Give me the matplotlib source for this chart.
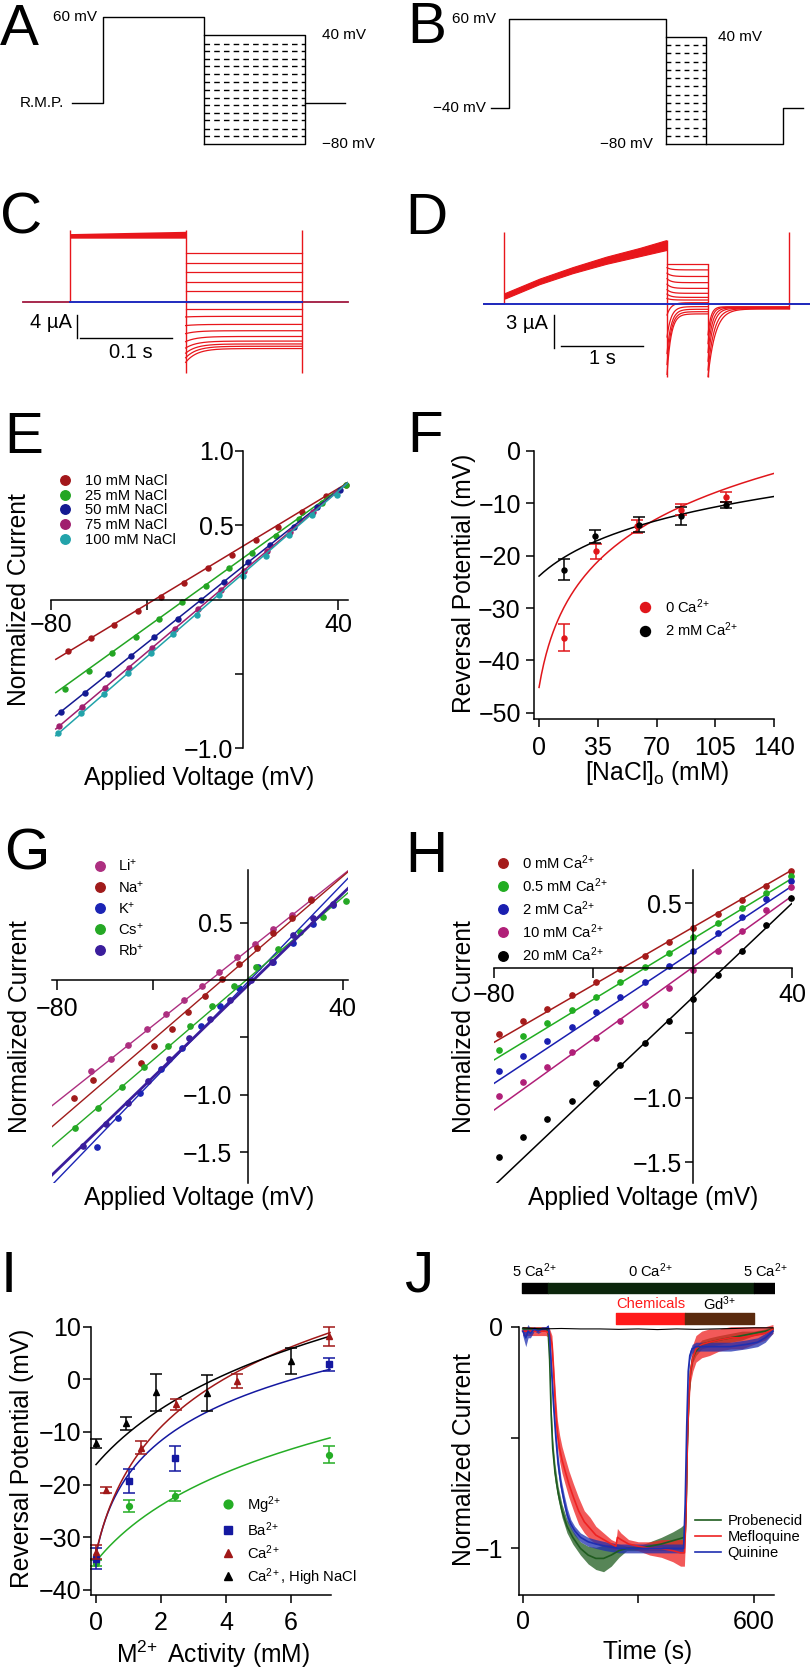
import numpy as np
import matplotlib
matplotlib.use("Agg")
import matplotlib.pyplot as plt

plt.rcParams["font.family"] = ["Liberation Sans", "DejaVu Sans"]
plt.rcParams["mathtext.fontset"] = "custom"
plt.rcParams["mathtext.rm"] = "Liberation Sans"
plt.rcParams["mathtext.it"] = "Liberation Sans:italic"
plt.rcParams["mathtext.bf"] = "Liberation Sans:bold"
plt.rcParams["mathtext.sf"] = "Liberation Sans"
plt.rcParams["mathtext.default"] = "regular"

W, H = 812, 1670
TICK_FS = 18
LABEL_FS = 17.7
LEG_FS = 10.6
LETTER_FS = 42
MINUS = "\u2212"
SUP2 = "$^{2\\!+}$"
SUP3 = "$^{3\\!+}$"

# ---------------- A / B : voltage protocols (arbitrary time units, mV) ----------------
A_times = [0, 31, 132, 233, 273]
A_rmp = -35
A_pulse = 60
A_top = 40
A_bottom = -80
A_dashed = [31, 23, 14, 6, -3, -11, -20, -29, -37, -46, -54, -63, -71]

B_times = [0, 18, 175, 215, 292, 312]
B_hold = -40
B_pulse = 60
B_top = 40
B_bottom = -80
B_dashed = [31, 22, 12, 3, -6, -15, -25, -34, -43, -52, -62, -71]

# ---------------- C : currents for protocol A (s, uA) ----------------
C_times = [0.0, 0.0511, 0.1768, 0.3036, 0.3536]
C_pulse_upper = [11.9, 12.3]
C_pulse_lower = [11.1, 11.1]
C_spike_top = 12.5
C_spike_bottom = -12.35
C_family_start = [8.6, 6.8, 5.2, 3.5, 1.9, 0.0, -1.2, -2.6, -4.1, -5.5, -6.9, -8.0, -8.9, -9.7, -10.5]
C_family_end = [8.6, 6.8, 5.2, 3.5, 1.9, 0.0, -1.2, -2.5, -3.9, -5.0, -6.0, -6.8, -7.3, -7.7, -8.1]
C_tau = 0.012

# ---------------- D : currents for protocol B (s, uA) ----------------
D_times = [0.0, 0.244, 2.232, 2.732, 3.72, 3.96]
D_growth_t = [0.256, 0.675, 1.08, 1.49, 1.90, 2.22]
D_growth_upper = [1.0, 2.3, 3.35, 4.3, 5.1, 5.8]
D_growth_lower = [0.5, 1.8, 2.8, 3.65, 4.35, 4.9]
D_spike_top = 6.55
D_spike_bottom = -6.64
D_family_start = [3.6, 3.3, 2.8, 2.3, 1.8, 1.3, 0.9, 0.5, -1.0, -3.0, -4.5, -5.5, -6.4]
D_family_end = [3.6, 3.1, 2.5, 1.94, 1.42, 0.97, 0.6, 0.36, 0.12, -0.24, -0.48, -0.7, -0.9]
D_family_tau = 0.05
D_tail_start = [-6.6, -6.0, -5.2, -4.4, -3.6, -2.8]
D_tail_end = [-0.45, -0.42, -0.38, -0.34, -0.3, -0.25]
D_tail_tau = [0.09, 0.075, 0.06, 0.05, 0.04, 0.035]

# ---------------- E : I-V at different NaCl ----------------
E_labels = ["10 mM NaCl", "25 mM NaCl", "50 mM NaCl", "75 mM NaCl", "100 mM NaCl"]
E_colors = ["#a3171b", "#23a523", "#141a92", "#a01f6e", "#22a3aa"]
E_V = [
    [-73, -63.5, -53.6, -43.8, -34, -24.3, -14.5, -4.6, 5.4, 14.9, 25, 34.7, 43],
    [-74.3, -64.3, -54.4, -44.6, -34.9, -25.1, -15.4, -5.7, 4, 13.8, 23.5, 33.3, 43],
    [-76, -66, -56.4, -46.6, -36.9, -27.1, -17.4, -7.6, 2.2, 11.6, 21.4, 31.1, 40.8],
    [-76.7, -66.9, -57.3, -47.5, -37.8, -28.4, -18.6, -8.9, 0.7, 10.2, 19.6, 29.4, 39.1],
    [-77.1, -67.4, -57.7, -47.9, -38.4, -28.9, -19.1, -9.7, 0.2, 9.8, 19.5, 29.1, 39.5],
]
E_I = [
    [-0.35, -0.26, -0.17, -0.08, 0.02, 0.11, 0.21, 0.30, 0.40, 0.49, 0.59, 0.70, 0.77],
    [-0.60, -0.48, -0.36, -0.25, -0.13, -0.02, 0.09, 0.21, 0.31, 0.43, 0.54, 0.65, 0.77],
    [-0.76, -0.63, -0.50, -0.38, -0.25, -0.13, 0.00, 0.12, 0.25, 0.37, 0.49, 0.62, 0.74],
    [-0.855, -0.723, -0.593, -0.459, -0.324, -0.197, -0.067, 0.063, 0.195, 0.324, 0.452, 0.586, 0.716],
    [-0.902, -0.765, -0.633, -0.497, -0.362, -0.235, -0.103, 0.027, 0.161, 0.295, 0.431, 0.570, 0.705],
]
E_fit_V = [-78, 44]
E_fit_I = [[-0.403, 0.787], [-0.627, 0.787], [-0.783, 0.787], [-0.872, 0.787], [-0.917, 0.787]]

# ---------------- F : reversal potential vs NaCl ----------------
F_red_x = [15.1, 33.9, 58.1, 84.5, 111.3]
F_red_y = [-35.7, -19.2, -14.4, -11.2, -8.8]
F_red_err = [2.6, 1.5, 1.2, 1.0, 0.9]
F_blk_x = [14.7, 33.4, 59.3, 84.5, 111.3]
F_blk_y = [-22.7, -16.3, -14.1, -12.4, -10.3]
F_blk_err = [2.0, 1.3, 1.4, 1.7, 0.6]
F_red_fit = (-71.3, 13.43, 7.0)   # E = a + b*ln(x + c)
F_blk_fit = (-52.96, 8.63, 29.0)

# ---------------- G : I-V for monovalent cations ----------------
G_labels = ["Li$^{+}$", "Na$^{+}$", "K$^{+}$", "Cs$^{+}$", "Rb$^{+}$"]
G_colors = ["#ad2f80", "#a01b1b", "#1b24b5", "#25a825", "#3a1d9c"]
G_V = [
    [-66, -57.4, -50.2, -42.4, -34.4, -26.7, -19.2, -11.9, -4.6, 3.2, 10.6, 18.5, 26.5],
    [-73, -64.9, -45, -39.2, -31.9, -24.9, -17.9, -10.9, -3.5, 3.8, 10.8, 18.5, 26.5],
    [-63.5, -54.4, -45.2, -36.3, -27.7, -19.7, -11.6, -3.5, 4.5, 10.8, 19.2, 27.6, 35.8],
    [-72.6, -62.8, -52.9, -43.4, -33.6, -24.2, -14.8, -5.6, 3.5, 12.7, 22, 31.6, 41.3],
    [-69.1, -59.5, -50.4, -41.8, -32.9, -24.5, -15.8, -7.4, 1.3, 10.1, 19.2, 27.6, 36],
]
G_I = [
    [-0.793, -0.686, -0.567, -0.427, -0.299, -0.174, -0.049, 0.073, 0.198, 0.317, 0.442, 0.567, 0.704],
    [-1.031, -0.875, -0.724, -0.573, -0.425, -0.276, -0.137, 0.006, 0.139, 0.279, 0.407, 0.543, 0.697],
    [-1.453, -1.200, -0.982, -0.776, -0.590, -0.401, -0.227, -0.073, 0.116, 0.160, 0.320, 0.488, 0.651],
    [-1.293, -1.119, -0.936, -0.762, -0.575, -0.398, -0.224, -0.049, 0.116, 0.267, 0.415, 0.552, 0.692],
    [-1.447, -1.255, -1.069, -0.880, -0.691, -0.508, -0.343, -0.174, 0.000, 0.160, 0.392, 0.538, 0.662],
]
G_fit_V = [-82.3, 42.2]
G_fit_I = [[-1.096, 0.953], [-1.279, 0.944], [-1.787, 0.888], [-1.453, 0.761], [-1.700, 0.799]]
G_fit_lw = [1.0, 1.0, 1.0, 1.0, 2.0]

# ---------------- H : I-V at different Ca ----------------
H_labels = ["0 mM Ca" + SUP2, "0.5 mM Ca" + SUP2, "2 mM Ca" + SUP2, "10 mM Ca" + SUP2, "20 mM Ca" + SUP2]
H_colors = ["#a51b1b", "#22ad22", "#1a1fb0", "#b01f78", "#000000"]
H_V = [-78, -68.5, -58.5, -48.7, -38.9, -29.1, -19.3, -9.7, 0.3, 10.2, 19.9, 29.5, 39.6]
H_I = [
    [-0.510, -0.409, -0.314, -0.211, -0.110, -0.008, 0.095, 0.203, 0.306, 0.415, 0.525, 0.636, 0.749],
    [-0.633, -0.525, -0.427, -0.324, -0.221, -0.110, 0.010, 0.118, 0.237, 0.345, 0.461, 0.582, 0.710],
    [-0.793, -0.680, -0.564, -0.453, -0.342, -0.226, -0.108, 0.015, 0.134, 0.268, 0.396, 0.530, 0.674],
    [-0.988, -0.878, -0.762, -0.651, -0.538, -0.409, -0.286, -0.152, -0.015, 0.134, 0.288, 0.448, 0.623],
    [-1.457, -1.303, -1.166, -1.025, -0.891, -0.749, -0.582, -0.409, -0.239, -0.054, 0.134, 0.332, 0.538],
]
H_fit_V = [-80, 40]
H_fit_I = [[-0.574, 0.757], [-0.710, 0.692], [-0.891, 0.633], [-1.097, 0.556], [-1.681, 0.500]]

# ---------------- I : reversal potential vs divalent activity ----------------
I_labels = ["Mg" + SUP2, "Ba" + SUP2, "Ca" + SUP2, "Ca" + SUP2 + ", High NaCl"]
I_colors = ["#25ad25", "#1418a0", "#a01818", "#000000"]
I_markers = ["o", "s", "^", "^"]
I_x = [
    [0, 1.02, 2.42, 7.18],
    [0, 1.02, 2.42, 7.16],
    [0, 0.31, 1.38, 2.47, 4.33, 7.18],
    [0, 0.92, 1.86, 3.40, 5.99],
]
I_y = [
    [-34.9, -24.1, -22.2, -14.3],
    [-34.1, -19.4, -15.0, 2.85],
    [-32.8, -21.0, -13.0, -4.75, -0.32, 8.2],
    [-12.2, -8.4, -2.5, -2.6, 3.5],
]
I_err = [
    [0.6, 1.2, 0.9, 1.7],
    [2.0, 2.3, 2.4, 1.2],
    [1.3, 0.6, 1.2, 1.0, 1.3, 1.8],
    [0.8, 1.2, 3.5, 3.5, 2.5],
]
I_fits = [(-45.3, 15.4, 2.0), (-21.77, 11.7, 0.37), (-24.66, 16.33, 0.6), (-32.7, 18.0, 2.5)]
I_fit_max = 7.2

# ---------------- J : time course ----------------
J_labels = ["Probenecid", "Mefloquine", "Quinine"]
J_colors = ["#1f5c1f", "#ee2222", "#1f2fb0"]
J_t = [
    [0, 20, 40, 60, 66, 70, 74, 78, 84, 92, 102, 115, 130, 150, 170, 190, 210, 230, 250, 270,
     300, 330, 360, 390, 410, 420, 424, 428, 432, 436, 442, 450, 465, 485, 510, 540, 570, 600, 630, 650],
    [0, 20, 40, 60, 70, 76, 80, 85, 90, 96, 102, 110, 120, 132, 145, 160, 175, 190, 210, 230,
     242, 246, 255, 275, 300, 330, 360, 390, 410, 420, 424, 428, 432, 436, 442, 450, 465, 485, 510, 540,
     570, 600, 630, 650],
    [0, 8, 14, 20, 30, 40, 50, 60, 66, 70, 75, 80, 86, 92, 100, 108, 116, 125, 135, 150,
     170, 190, 215, 250, 300, 350, 400, 418, 422, 426, 430, 434, 440, 450, 470, 500, 540, 580, 610, 630, 650],
]
J_v = [
    [-0.01, -0.01, -0.01, -0.01, -0.02, -0.15, -0.40, -0.55, -0.66, -0.75, -0.83, -0.90, -0.95, -1.00, -1.03,
     -1.045, -1.045, -1.03, -1.01, -1.0, -1.0, -0.99, -0.98, -0.965, -0.955, -0.95, -0.85, -0.5, -0.3, -0.2,
     -0.14, -0.11, -0.08, -0.07, -0.06, -0.05, -0.04, -0.03, -0.02, -0.01],
    [-0.02, -0.02, -0.02, -0.02, -0.03, -0.08, -0.20, -0.36, -0.48, -0.55, -0.60, -0.65, -0.71, -0.77, -0.83,
     -0.88, -0.91, -0.94, -0.96, -0.98, -0.99, -0.95, -0.96, -0.98, -0.99, -1.0, -1.0, -1.01, -1.02, -1.02,
     -0.85, -0.5, -0.3, -0.2, -0.14, -0.1, -0.08, -0.07, -0.06, -0.05, -0.05, -0.04, -0.03, -0.01],
    [-0.02, -0.05, -0.02, -0.03, -0.01, -0.02, -0.01, -0.01, 0.0, -0.05, -0.2, -0.35, -0.5, -0.62, -0.72,
     -0.79, -0.85, -0.89, -0.92, -0.95, -0.97, -0.98, -0.99, -1.0, -1.0, -1.0, -1.0, -1.0, -0.8, -0.45,
     -0.2, -0.13, -0.1, -0.09, -0.09, -0.09, -0.09, -0.08, -0.07, -0.05, -0.02],
]
J_err = [
    [0.01, 0.01, 0.01, 0.01, 0.02, 0.03, 0.04, 0.04, 0.04, 0.03, 0.03, 0.03, 0.03, 0.03, 0.04,
     0.05, 0.06, 0.05, 0.03, 0.01, 0.01, 0.02, 0.03, 0.04, 0.05, 0.06, 0.05, 0.04, 0.03, 0.02,
     0.02, 0.02, 0.02, 0.02, 0.02, 0.02, 0.02, 0.01, 0.01, 0.01],
    [0.02, 0.02, 0.02, 0.02, 0.02, 0.04, 0.05, 0.06, 0.06, 0.06, 0.06, 0.06, 0.06, 0.06, 0.06,
     0.05, 0.05, 0.04, 0.03, 0.02, 0.02, 0.04, 0.03, 0.02, 0.02, 0.03, 0.04, 0.05, 0.06, 0.06,
     0.05, 0.05, 0.05, 0.05, 0.06, 0.06, 0.06, 0.06, 0.05, 0.05, 0.05, 0.04, 0.03, 0.02],
    [0.02, 0.04, 0.03, 0.02, 0.01, 0.01, 0.01, 0.01, 0.01, 0.03, 0.04, 0.04, 0.04, 0.04, 0.03,
     0.03, 0.03, 0.02, 0.02, 0.02, 0.02, 0.02, 0.02, 0.02, 0.02, 0.02, 0.02, 0.02, 0.03, 0.03,
     0.03, 0.02, 0.02, 0.02, 0.02, 0.02, 0.02, 0.02, 0.02, 0.02, 0.01],
]
J_ctl_t = [0, 50, 100, 150, 200, 250, 300, 350, 400, 450, 500, 550, 600, 650]
J_ctl_v = [-0.005, -0.01, -0.008, -0.01, -0.01, -0.012, -0.01, -0.013, -0.01, -0.012, -0.01, -0.008, -0.005, -0.005]
J_sol_start = [-2, 65, 601]
J_sol_end = [65, 601, 660]
J_sol_colors = ["#000000", "#0c260c", "#000000"]
J_sol_labels = ["5 Ca" + SUP2, "0 Ca" + SUP2, "5 Ca" + SUP2]
J_drug_start = [242, 422]
J_drug_end = [422, 601.5]
J_drug_colors = ["#ff1a1a", "#5a2a0e"]
J_drug_labels = ["Chemicals", "Gd" + SUP3]
J_drug_text_colors = ["#ff1a1a", "#000000"]

RED = "#e8161b"
BLUE = "#1f2bbf"
MIX = "#a0183f"

fig = plt.figure(figsize=(W / 100, H / 100), dpi=100)


def px_axes(l, t, r, b):
    ax = fig.add_axes([l / W, 1 - b / H, (r - l) / W, (b - t) / H])
    ax.patch.set_visible(False)
    return ax


def fig_text(x, y, s, **kw):
    fig.text(x / W, 1 - y / H, s, **kw)


def iv_axes(box, xlim, ylim, xticks, xlabels, yticks, ylabels, xpad, ypad):
    ax = px_axes(*box)
    ax.set_xlim(xlim)
    ax.set_ylim(ylim)
    for s in ("top", "right"):
        ax.spines[s].set_visible(False)
    ax.spines["left"].set_position(("data", 0))
    ax.spines["bottom"].set_position(("data", 0))
    for s in ("left", "bottom"):
        ax.spines[s].set_linewidth(1.1)
    ax.set_xticks(xticks, xlabels)
    ax.set_yticks(yticks, ylabels)
    ax.tick_params(axis="x", direction="out", length=7, width=1.1, labelsize=TICK_FS, pad=xpad)
    ax.tick_params(axis="y", direction="out", length=5.5, width=1.1, labelsize=TICK_FS, pad=ypad)
    return ax


def l_axes(box, xlim, ylim, xticks, yticks, xpad, ypad, xlabels=None, ylabels=None):
    ax = px_axes(*box)
    ax.set_xlim(xlim)
    ax.set_ylim(ylim)
    for s in ("top", "right"):
        ax.spines[s].set_visible(False)
    for s in ("left", "bottom"):
        ax.spines[s].set_linewidth(1.1)
    if xlabels is None:
        ax.set_xticks(xticks)
    else:
        ax.set_xticks(xticks, xlabels)
    if ylabels is None:
        ax.set_yticks(yticks)
    else:
        ax.set_yticks(yticks, ylabels)
    ax.tick_params(axis="x", direction="out", length=5.5, width=1.1, labelsize=TICK_FS, pad=xpad)
    ax.tick_params(axis="y", direction="out", length=6, width=1.1, labelsize=TICK_FS, pad=ypad)
    return ax


def legend_at(ax, x, y, handlelength, textpad, spacing, markerscale=1.0, handles=None):
    kw = dict(loc="upper left", bbox_to_anchor=(x / W, 1 - y / H), bbox_transform=fig.transFigure,
              frameon=False, fontsize=LEG_FS, handlelength=handlelength, handletextpad=textpad,
              labelspacing=spacing, borderpad=0, borderaxespad=0, markerscale=markerscale)
    if handles is not None:
        kw["handles"] = handles
    return ax.legend(**kw)


def log_fit(x, a, b, c):
    return a + b * np.log(x + c)


# panel letters
for letter, x, y in [("A", 0, 45), ("B", 407, 43), ("C", 0, 234), ("D", 405, 234),
                     ("E", 4, 453), ("F", 407, 452), ("G", 4, 870), ("H", 405, 872),
                     ("I", 1, 1292), ("J", 404, 1292)]:
    fig_text(x, y, letter, fontsize=LETTER_FS, ha="left", va="baseline")

# ---------------- A ----------------
axA = px_axes(0, 0, 406, 160)
axA.set_axis_off()
axA.set_xlim(-72, 334)
axA.set_ylim(-97.7, 79.1)
t0, t1, t2, t3, t4 = A_times
axA.plot([t0, t1, t1, t2, t2], [A_rmp, A_rmp, A_pulse, A_pulse, A_bottom], color="k", lw=1)
axA.plot([t2, t3, t3, t2], [A_top, A_top, A_bottom, A_bottom], color="k", lw=1)
axA.plot([t3, t4], [A_rmp, A_rmp], color="k", lw=1)
axA.hlines(A_dashed, t2, t3, colors="k", lw=1, linestyles=(0, (4, 3)))
axA.text(t1 - 6, A_pulse, "60 mV", ha="right", va="center", fontsize=11)
axA.text(-8, A_rmp, "R.M.P.", ha="right", va="center", fontsize=11)
axA.text(t3 + 17, A_top, "40 mV", ha="left", va="center", fontsize=11)
axA.text(t3 + 17, A_bottom, MINUS + "80 mV", ha="left", va="center", fontsize=11)

# ---------------- B ----------------
axB = px_axes(406, 0, 812, 160)
axB.set_axis_off()
axB.set_xlim(-85, 321)
axB.set_ylim(-97.9, 81.3)
b0, b1, b2, b3, b4, b5 = B_times
axB.plot([b0, b1, b1, b2, b2], [B_hold, B_hold, B_pulse, B_pulse, B_bottom], color="k", lw=1)
axB.plot([b2, b3, b3], [B_top, B_top, B_bottom], color="k", lw=1)
axB.plot([b2, b4, b4, b5], [B_bottom, B_bottom, B_hold, B_hold], color="k", lw=1)
axB.hlines(B_dashed, b2, b3, colors="k", lw=1, linestyles=(0, (3.5, 3)))
axB.text(b1 - 13, B_pulse, "60 mV", ha="right", va="center", fontsize=11)
axB.text(-5, B_hold, MINUS + "40 mV", ha="right", va="center", fontsize=11)
axB.text(b3 + 12, B_top, "40 mV", ha="left", va="center", fontsize=11)
axB.text(b2 - 13, B_bottom, MINUS + "80 mV", ha="right", va="center", fontsize=11)

# ---------------- C ----------------
axC = px_axes(0, 160, 406, 380)
axC.set_axis_off()
axC.set_xlim(-0.025, 0.4163)
axC.set_ylim(-13.57, 24.7)
c0, c_on, c_step, c_off, c_end = C_times
axC.plot([c0, c_on], [0, 0], color=MIX, lw=1.3)
axC.plot([c_off, c_end], [0, 0], color=MIX, lw=1.3)
axC.fill_between([c_on, c_step], C_pulse_lower, C_pulse_upper, color=RED, lw=0)
axC.vlines([c_on], 0, C_spike_top, colors=RED, lw=1)
axC.vlines([c_step, c_off], C_spike_bottom, C_spike_top, colors=RED, lw=1)
tt = np.linspace(c_step, c_off, 200)
for s, e in zip(C_family_start, C_family_end):
    axC.plot(tt, e + (s - e) * np.exp(-(tt - c_step) / C_tau), color=RED, lw=0.9)
axC.plot([c_on, c_off], [0, 0], color=BLUE, lw=1.4)
axC.plot([0.0587, 0.0587], [-2.26, -6.26], color="k", lw=1)
axC.plot([0.062, 0.162], [-6.26, -6.26], color="k", lw=1)
axC.text(0.053, -3.65, "4 \u00b5A", ha="right", va="center", fontsize=14.5)
axC.text(0.117, -8.87, "0.1 s", ha="center", va="center", fontsize=14.5)

# ---------------- D ----------------
axD = px_axes(406, 160, 812, 380)
axD.set_axis_off()
axD.set_xlim(-0.951, 4.0)
axD.set_ylim(-6.91, 13.09)
d0, d_on, d_step, d_tail, d_off, d_end = D_times
axD.plot([d0, d_on], [0, 0], color=MIX, lw=1.3)
axD.plot([d_off, d_end], [0, 0], color=MIX, lw=1.3)
axD.vlines([d_on], 0, D_spike_top, colors=RED, lw=1)
axD.fill_between(D_growth_t, D_growth_lower, D_growth_upper, color=RED, lw=0.8)
axD.vlines([d_step], D_spike_bottom, D_growth_upper[-1], colors=RED, lw=1)
tt = np.linspace(d_step, d_tail, 200)
for s, e in zip(D_family_start, D_family_end):
    axD.plot(tt, e + (s - e) * np.exp(-(tt - d_step) / D_family_tau), color=RED, lw=0.9)
axD.vlines([d_tail], D_spike_bottom, D_family_end[0], colors=RED, lw=1)
tt = np.linspace(d_tail, d_off, 300)
for s, e, tau in zip(D_tail_start, D_tail_end, D_tail_tau):
    axD.plot(tt, e + (s - e) * np.exp(-(tt - d_tail) / tau), color=RED, lw=0.9)
axD.vlines([d_off], D_tail_end[0], D_spike_top, colors=RED, lw=1)
axD.plot([d0, d_end], [0, 0], color=BLUE, lw=1.4)
axD.plot([0.854, 0.854], [-1.0, -4.0], color="k", lw=1)
axD.plot([0.939, 1.939], [-3.82, -3.82], color="k", lw=1)
axD.text(0.78, -1.73, "3 \u00b5A", ha="right", va="center", fontsize=14.5)
axD.text(1.45, -5.0, "1 s", ha="center", va="center", fontsize=14.5)

# ---------------- E ----------------
axE = iv_axes((51, 451, 348, 748), (-80, 44), (-1.0, 1.0),
              [-80, -40, 40], [MINUS + "80", "", "40"],
              [1.0, 0.5, -0.5, -1.0], ["1.0", "0.5", "", MINUS + "1.0"], xpad=3, ypad=1)
for V, I, fit, c, lab in zip(E_V, E_I, E_fit_I, E_colors, E_labels):
    axE.plot(E_fit_V, fit, color=c, lw=1.1)
    axE.plot(V, I, "o", color=c, ms=3.6, ls="none", label=lab, clip_on=False)
legend_at(axE, 59, 474, 0.8, 0.95, 0.05, markerscale=1.9)
fig_text(19, 600, "Normalized Current", rotation=90, ha="center", va="center", fontsize=LABEL_FS)
fig_text(199, 778, "Applied Voltage (mV)", ha="center", va="center", fontsize=LABEL_FS)

# ---------------- F ----------------
axF = l_axes((534, 451, 774, 719), (-3, 140), (-51.2, 0),
             [0, 35, 70, 105, 140], [0, -10, -20, -30, -40, -50], xpad=7, ypad=3.5)
xx = np.linspace(0, 140, 200)
axF.plot(xx, log_fit(xx, *F_red_fit), color="#e0161b", lw=1.1)
axF.plot(xx, log_fit(xx, *F_blk_fit), color="k", lw=1.1)
axF.errorbar(F_red_x, F_red_y, yerr=F_red_err, fmt="none", ecolor="#e0161b", elinewidth=1.1, capsize=4.5, capthick=1.1)
axF.errorbar(F_blk_x, F_blk_y, yerr=F_blk_err, fmt="none", ecolor="k", elinewidth=1.1, capsize=4.5, capthick=1.1)
axF.plot(F_red_x, F_red_y, "o", color="#e0161b", ms=3.6, ls="none", label="0 Ca" + SUP2)
axF.plot(F_blk_x, F_blk_y, "o", color="k", ms=3.6, ls="none", label="2 mM Ca" + SUP2)
legend_at(axF, 639, 597, 0.8, 0.95, 0.35, markerscale=2.0)
fig_text(464, 583, "Reversal Potential (mV)", rotation=90, ha="center", va="center", fontsize=LABEL_FS)
fig_text(657, 773, "[NaCl]$_{o}$ (mM)", ha="center", va="center", fontsize=LABEL_FS)

# ---------------- G ----------------
axG = iv_axes((52, 870, 348, 1183), (-82.3, 42.2), (-1.77, 0.96),
              [-80, -40, 40], [MINUS + "80", "", "40"],
              [0.5, -0.5, -1.0, -1.5], ["0.5", "", MINUS + "1.0", MINUS + "1.5"], xpad=5, ypad=5.5)
for V, I, fit, c, lw, lab in zip(G_V, G_I, G_fit_I, G_colors, G_fit_lw, G_labels):
    axG.plot(G_fit_V, fit, color=c, lw=lw)
    axG.plot(V, I, "o", color=c, ms=3.8, ls="none", label=lab, clip_on=False)
legend_at(axG, 94, 858, 0.8, 0.8, 0.35, markerscale=1.8)
fig_text(20, 1027, "Normalized Current", rotation=90, ha="center", va="center", fontsize=LABEL_FS)
fig_text(199, 1198, "Applied Voltage (mV)", ha="center", va="center", fontsize=LABEL_FS)

# ---------------- H ----------------
axH = iv_axes((494, 870, 792, 1183), (-80, 40), (-1.66, 0.757),
              [-80, -40, 40], [MINUS + "80", "", "40"],
              [0.5, -0.5, -1.0, -1.5], ["0.5", "", MINUS + "1.0", MINUS + "1.5"], xpad=4, ypad=2)
for I, fit, c, lab in zip(H_I, H_fit_I, H_colors, H_labels):
    axH.plot(H_fit_V, fit, color=c, lw=1.1)
    axH.plot(H_V, I, "o", color=c, ms=3.8, ls="none", label=lab, clip_on=False)
legend_at(axH, 497, 853, 0.8, 0.9, 0.3, markerscale=1.8)
fig_text(464, 1027, "Normalized Current", rotation=90, ha="center", va="center", fontsize=LABEL_FS)
fig_text(643, 1198, "Applied Voltage (mV)", ha="center", va="center", fontsize=LABEL_FS)

# ---------------- I ----------------
axI = l_axes((90.7, 1326.7, 330.7, 1595), (-0.163, 7.22), (-41.0, 10),
             [0, 2, 4, 6], [10, 0, -10, -20, -30, -40], xpad=6, ypad=1)
for (a, b, c), col in zip(I_fits, I_colors):
    xx = np.linspace(0, I_fit_max, 200)
    axI.plot(xx, log_fit(xx, a, b, c), color=col, lw=1.1)
for x, y, e, col, m, lab in zip(I_x, I_y, I_err, I_colors, I_markers, I_labels):
    axI.errorbar(x, y, yerr=e, fmt="none", ecolor=col, elinewidth=1.1, capsize=4, capthick=1.1, clip_on=False)
    axI.plot(x, y, m, color=col, ms=4.2, ls="none", label=lab, clip_on=False)
legend_at(axI, 222, 1494, 0.8, 0.9, 0.3, markerscale=1.5)
fig_text(22, 1458, "Reversal Potential (mV)", rotation=90, ha="center", va="center", fontsize=LABEL_FS)
fig_text(213, 1654, "M" + SUP2 + " Activity (mM)", ha="center", va="center", fontsize=LABEL_FS)

# ---------------- J ----------------
axJ = l_axes((518.7, 1326.7, 774.3, 1595), (-10.4, 653.5), (-1.21, 0.0),
             [0, 300, 600], [0, -0.5, -1], xpad=5, ypad=5,
             xlabels=["0", "", "600"], ylabels=["0", "", MINUS + "1"])
for t, v, e, col in zip(J_t, J_v, J_err, J_colors):
    v = np.array(v)
    e = np.array(e)
    axJ.fill_between(t, v - e, v + e, color=col, alpha=0.75, lw=0, clip_on=False)
for t, v, col, lab in zip(J_t, J_v, J_colors, J_labels):
    axJ.plot(t, v, color=col, lw=1.2, label=lab, clip_on=False)
axJ.plot(J_ctl_t, J_ctl_v, color="k", lw=0.8, clip_on=False)
handles = axJ.get_legend_handles_labels()[0]
legend_at(axJ, 695, 1514, 1.75, 0.45, 0.15, handles=handles)

axJb = px_axes(518.7, 1260, 774.3, 1326.7)
axJb.set_axis_off()
axJb.set_xlim(-10.4, 653.5)
axJb.set_ylim(0, 1)
for s, e, col, lab in zip(J_sol_start, J_sol_end, J_sol_colors, J_sol_labels):
    axJb.broken_barh([(s, e - s)], (0.505, 0.15), color=col)
    axJb.text((s + e) / 2, 0.84, lab, ha="center", va="center", fontsize=LEG_FS, clip_on=False)
for s, e, col, lab, tcol in zip(J_drug_start, J_drug_end, J_drug_colors, J_drug_labels, J_drug_text_colors):
    axJb.broken_barh([(s, e - s)], (0.036, 0.164), color=col)
    axJb.text((s + e) / 2, 0.34, lab, ha="center", va="center", fontsize=LEG_FS, color=tcol, clip_on=False)
fig_text(464, 1460, "Normalized Current", rotation=90, ha="center", va="center", fontsize=LABEL_FS)
fig_text(648, 1652, "Time (s)", ha="center", va="center", fontsize=LABEL_FS)

fig.savefig("out.png", dpi=100)
